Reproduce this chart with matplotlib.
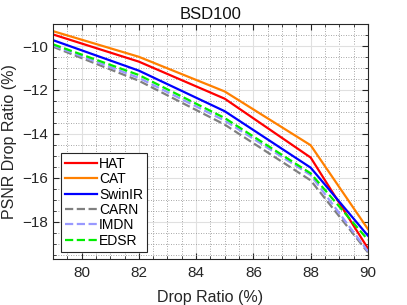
import numpy as np
import matplotlib
matplotlib.use("Agg")
import matplotlib.pyplot as plt
from matplotlib.ticker import MultipleLocator

plt.rcParams['font.family'] = ['Liberation Sans', 'DejaVu Sans']

# drop ratio (%) on x
ratios = [79, 82, 85, 88, 90]

# PSNR drop (%) per model
hat = [-9.47, -10.71, -12.40, -15.08, -19.22]
cat = [-9.32, -10.49, -12.07, -14.52, -18.34]
swinir = [-9.73, -11.12, -12.97, -15.54, -18.64]
carn = [-10.03, -11.58, -13.58, -16.12, -19.40]
imdn = [-9.97, -11.45, -13.40, -15.88, -19.35]
edsr = [-9.92, -11.32, -13.28, -15.80, -18.83]

names = ["HAT", "CAT", "SwinIR", "CARN", "IMDN", "EDSR"]
series = [hat, cat, swinir, carn, imdn, edsr]
colors = ["#ff0000", "#ff8000", "#0000ff", "#808080", "#9999ff", "#00ee00"]
styles = ["-", "-", "-", "--", "--", "--"]

fig = plt.figure(figsize=(4.07, 3.05), dpi=100)
ax = fig.add_axes([0.130, 0.151, 0.774, 0.770])

for vals, name, c, ls in zip(series, names, colors, styles):
    ax.plot(ratios, vals, ls, color=c, lw=1.6, label=name)

ax.set_xlim(79, 90)
ax.set_ylim(-19.7, -9)
ax.xaxis.set_major_locator(MultipleLocator(2))
ax.yaxis.set_major_locator(MultipleLocator(2))
ax.xaxis.set_minor_locator(MultipleLocator(0.5))
ax.yaxis.set_minor_locator(MultipleLocator(0.5))

ax.grid(True, which='major', color='#e0e0e0', lw=0.8, ls='-')
ax.grid(True, which='minor', color='#8a8a8a', lw=0.6, ls=(0, (1, 2)))
ax.set_axisbelow(True)

ax.tick_params(which='both', direction='in', top=True, right=True,
               labelsize=11, colors='#262626', labelcolor='#262626')
ax.tick_params(which='major', length=4)
ax.tick_params(which='minor', length=2)
ax.tick_params(axis='x', which='major', pad=5)
for s in ax.spines.values():
    s.set_color('#262626')
    s.set_linewidth(0.8)

ax.set_title("BSD100", fontsize=12, color='#111111', pad=4)
ax.set_xlabel("Drop Ratio (%)", fontsize=11.5, color='#262626', labelpad=7)
ax.set_ylabel("PSNR Drop Ratio (%)", fontsize=11.5, color='#262626', labelpad=4)

leg = ax.legend(loc='lower left', bbox_to_anchor=(0.025, 0.03), fontsize=10,
                handlelength=2.3, handletextpad=0.15, labelspacing=0.1,
                borderpad=0.3, fancybox=False, framealpha=1, borderaxespad=0)
leg.get_frame().set_edgecolor('#262626')
leg.get_frame().set_linewidth(0.8)

fig.savefig("out.png", dpi=100)
